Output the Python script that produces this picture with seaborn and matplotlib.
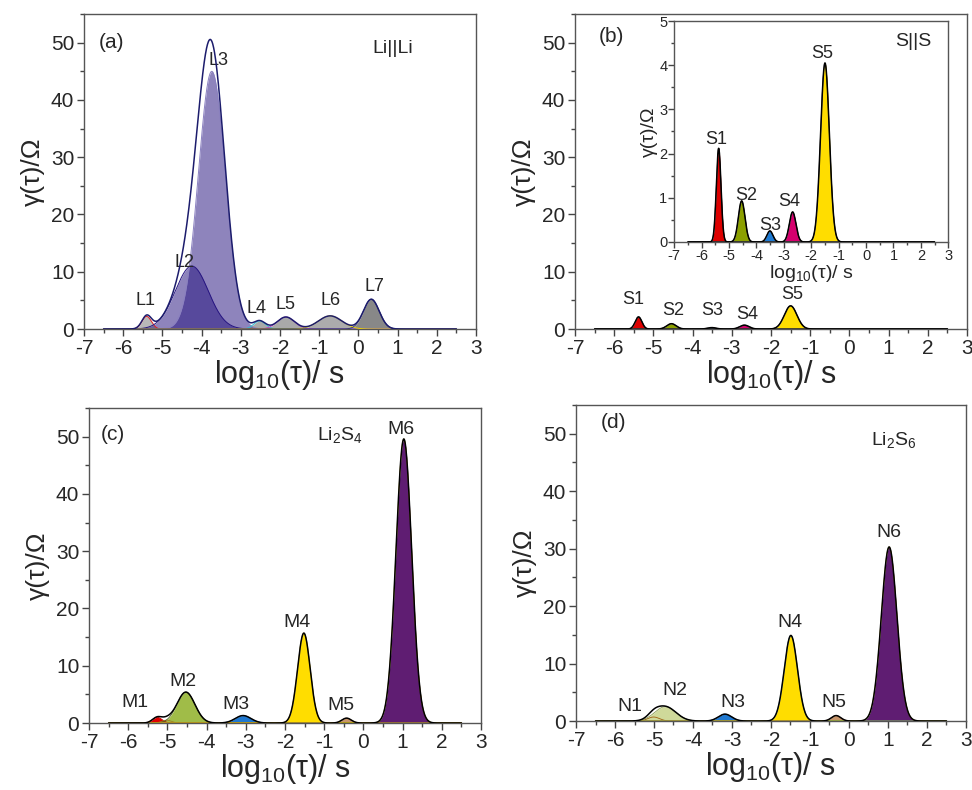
import numpy as np
import pandas as pd
import matplotlib
matplotlib.use("Agg")
import matplotlib.pyplot as plt
from matplotlib.ticker import MultipleLocator
import seaborn as sns

# peak parameters: centre (log10 tau), height (ohm), width (sigma)
a_names = ["L1", "L2", "L3", "L4", "L5", "L6", "L7"]
a_centers = [-5.40, -4.25, -3.74, -2.52, -1.85, -0.72, 0.33]
a_heights = [2.2, 11.0, 45.0, 1.4, 2.1, 2.3, 5.2]
a_widths = [0.12, 0.42, 0.34, 0.15, 0.22, 0.30, 0.20]
a_label_x = [-5.44, -4.44, -3.57, -2.61, -1.86, -0.70, 0.40]
a_label_y = [4.9, 11.7, 46.9, 3.5, 4.2, 4.9, 7.5]

b_names = ["S1", "S2", "S3", "S4", "S5"]
b_centers = [-5.38, -4.54, -3.51, -2.68, -1.50]
b_heights = [2.12, 0.93, 0.25, 0.68, 4.05]
b_widths = [0.085, 0.12, 0.11, 0.12, 0.16]
b_label_x = [-5.51, -4.49, -3.49, -2.62, -1.47]
b_label_y = [5.2, 3.3, 3.3, 2.6, 6.1]
b_inset_label_x = [-5.46, -4.39, -3.51, -2.80, -1.59]
b_inset_label_y = [2.32, 1.06, 0.38, 0.91, 4.27]

c_names = ["M1", "", "M2", "M3", "M4", "M5", "M6"]
c_centers = [-5.26, -5.02, -4.53, -3.07, -1.52, -0.43, 1.03]
c_heights = [1.0, 0.5, 5.4, 1.3, 15.7, 0.85, 49.6]
c_widths = [0.12, 0.12, 0.23, 0.20, 0.16, 0.12, 0.20]
c_label_x = [-5.83, None, -4.61, -3.25, -1.70, -0.58, 0.95]
c_label_y = [3.5, None, 7.3, 3.2, 17.6, 3.0, 51.2]

d_names = ["N1", "N2", "N3", "N4", "N5", "N6"]
d_centers = [-5.01, -4.71, -3.18, -1.49, -0.33, 1.03]
d_heights = [0.7, 2.5, 1.2, 14.9, 0.95, 30.3]
d_widths = [0.15, 0.27, 0.17, 0.17, 0.12, 0.20]
d_label_x = [-5.63, -4.47, -2.98, -1.51, -0.40, 1.03]
d_label_y = [2.6, 5.4, 3.2, 17.2, 3.2, 32.8]

sns.set_theme(style="ticks")
plt.rcParams["font.family"] = ["Liberation Sans", "DejaVu Sans"]
plt.rcParams["mathtext.fontset"] = "custom"
plt.rcParams["mathtext.rm"] = "Liberation Sans"
plt.rcParams["mathtext.it"] = "Liberation Sans"
plt.rcParams["axes.unicode_minus"] = False

XLAB = r"log$\mathregular{_{10}}$(τ)/ s"
YLAB = "γ(τ)/Ω"
x = np.linspace(-6.5, 2.5, 1200)


def peaks(centers, heights, widths):
    rows = []
    for i, (c, h, w) in enumerate(zip(centers, heights, widths)):
        rows.append(pd.DataFrame({"x": x, "y": h * np.exp(-(x - c) ** 2 / (2 * w ** 2)), "peak": i}))
    return pd.concat(rows, ignore_index=True)


def style_axes(ax, ylim=(0, 55), ymaj=10, ymin=5, main=True):
    ax.set_xlim(-7, 3)
    ax.set_ylim(*ylim)
    ax.xaxis.set_major_locator(MultipleLocator(1))
    ax.xaxis.set_minor_locator(MultipleLocator(0.5))
    ax.yaxis.set_major_locator(MultipleLocator(ymaj))
    ax.yaxis.set_minor_locator(MultipleLocator(ymin))
    ax.tick_params(which="major", direction="out", length=5 if main else 4, width=1,
                   labelsize=15 if main else 10.5, color="#444444", pad=2 if main else 1)
    ax.tick_params(which="minor", direction="out", length=3 if main else 2, width=1, color="#444444")
    for s in ax.spines.values():
        s.set_color("#555555")
        s.set_linewidth(1.0)
    if main:
        ax.set_xlabel(XLAB, fontsize=22, labelpad=0)
        ax.set_ylabel(YLAB, fontsize=19, labelpad=4)
    else:
        ax.set_xlabel(XLAB, fontsize=14, labelpad=0)
        ax.set_ylabel(YLAB, fontsize=14, labelpad=1)


def draw_panel(ax, df, fills, edges, env_color="black", lw=0.8):
    for i, grp in df.groupby("peak"):
        fc, alpha = fills[i]
        ax.fill_between(grp["x"], 0, grp["y"], color=fc, alpha=alpha, linewidth=0, zorder=2)
    sns.lineplot(data=df, x="x", y="y", hue="peak", palette=edges, legend=False,
                 linewidth=lw, ax=ax, zorder=3)
    env = df.groupby("x", as_index=False)["y"].sum()
    sns.lineplot(data=env, x="x", y="y", color=env_color, linewidth=1.1, ax=ax, zorder=4)


fig = plt.figure(figsize=(9.72, 7.9), dpi=100)

# (a) Li||Li
ax_a = fig.add_axes([0.0864, 0.5835, 0.4033, 0.3987])
df_a = peaks(a_centers, a_heights, a_widths)
fills_a = [("#8a8a8a", 0.6), ("#261480", 0.52), ("#261480", 0.52), ("#707070", 0.6),
           ("#707070", 0.6), ("#808080", 0.65), ("#6a6a6a", 0.8)]
edges_a = ["#e02020", "#261480", "#8a80c0", "#30c0d0", "#c040c0", "#e8d000", "#3a3a6a"]
draw_panel(ax_a, df_a, fills_a, edges_a, env_color="#1c1c6c", lw=0.7)
for n, lx, ly in zip(a_names, a_label_x, a_label_y):
    ax_a.text(lx, ly, n, fontsize=13, ha="center", va="center")
ax_a.text(-6.3, 50, "(a)", fontsize=15, ha="center", va="center")
ax_a.text(0.87, 48.9, "Li||Li", fontsize=14, ha="center", va="center")
style_axes(ax_a)

# (b) S||S
colors_b = ["#dd0000", "#8ca000", "#1e7bd4", "#d6006e", "#ffdd00"]
ax_b = fig.add_axes([0.5916, 0.5835, 0.4033, 0.3987])
df_b = peaks(b_centers, b_heights, b_widths)
draw_panel(ax_b, df_b, [(c, 1) for c in colors_b], ["#333333"] * 5, lw=0.6)
for n, lx, ly in zip(b_names, b_label_x, b_label_y):
    ax_b.text(lx, ly, n, fontsize=13, ha="center", va="center")
ax_b.text(-6.06, 51, "(b)", fontsize=15, ha="center", va="center")
style_axes(ax_b)

ax_in = fig.add_axes([0.6937, 0.6937, 0.2819, 0.2797])
draw_panel(ax_in, df_b, [(c, 1) for c in colors_b], ["#333333"] * 5, lw=0.6)
for n, lx, ly in zip(b_names, b_inset_label_x, b_inset_label_y):
    ax_in.text(lx, ly, n, fontsize=13, ha="center", va="center")
ax_in.text(1.72, 4.53, "S||S", fontsize=14, ha="center", va="center")
style_axes(ax_in, ylim=(0, 5), ymaj=1, ymin=0.5, main=False)

# (c) Li2S4
colors_c = ["#e00000", "#b89a20", "#a0bc48", "#1f78d0", "#ffdd00", "#c8956a", "#5f1d72"]
edges_c = ["#c00000", "#a08020", "#4a6020", "#1a5aa0", "#c8a800", "#a06040", "#c8b000"]
ax_c = fig.add_axes([0.0916, 0.0848, 0.4033, 0.3987])
df_c = peaks(c_centers, c_heights, c_widths)
draw_panel(ax_c, df_c, [(c, 1) for c in colors_c], edges_c, lw=0.6)
for n, lx, ly in zip(c_names, c_label_x, c_label_y):
    if n:
        ax_c.text(lx, ly, n, fontsize=14, ha="center", va="center")
ax_c.text(-6.40, 50.3, "(c)", fontsize=15, ha="center", va="center")
ax_c.text(-0.60, 50.3, r"Li$_2$S$_4$", fontsize=14, ha="center", va="center")
style_axes(ax_c)

# (d) Li2S6
colors_d = ["#d2841e", "#cfd99a", "#1f78d0", "#ffdd00", "#c8956a", "#5f1d72"]
edges_d = ["#a06010", "#8a9a50", "#1a5aa0", "#40a0a0", "#a06040", "#c8b000"]
ax_d = fig.add_axes([0.5926, 0.0873, 0.4012, 0.4])
df_d = peaks(d_centers, d_heights, d_widths)
draw_panel(ax_d, df_d, [(c, 1) for c in colors_d], edges_d, lw=0.6)
for n, lx, ly in zip(d_names, d_label_x, d_label_y):
    ax_d.text(lx, ly, n, fontsize=14, ha="center", va="center")
ax_d.text(-6.05, 52, "(d)", fontsize=15, ha="center", va="center")
ax_d.text(1.14, 49, r"Li$\mathregular{_2}$S$\mathregular{_6}$", fontsize=14, ha="center", va="center")
style_axes(ax_d)

fig.savefig("out.png", dpi=100)
